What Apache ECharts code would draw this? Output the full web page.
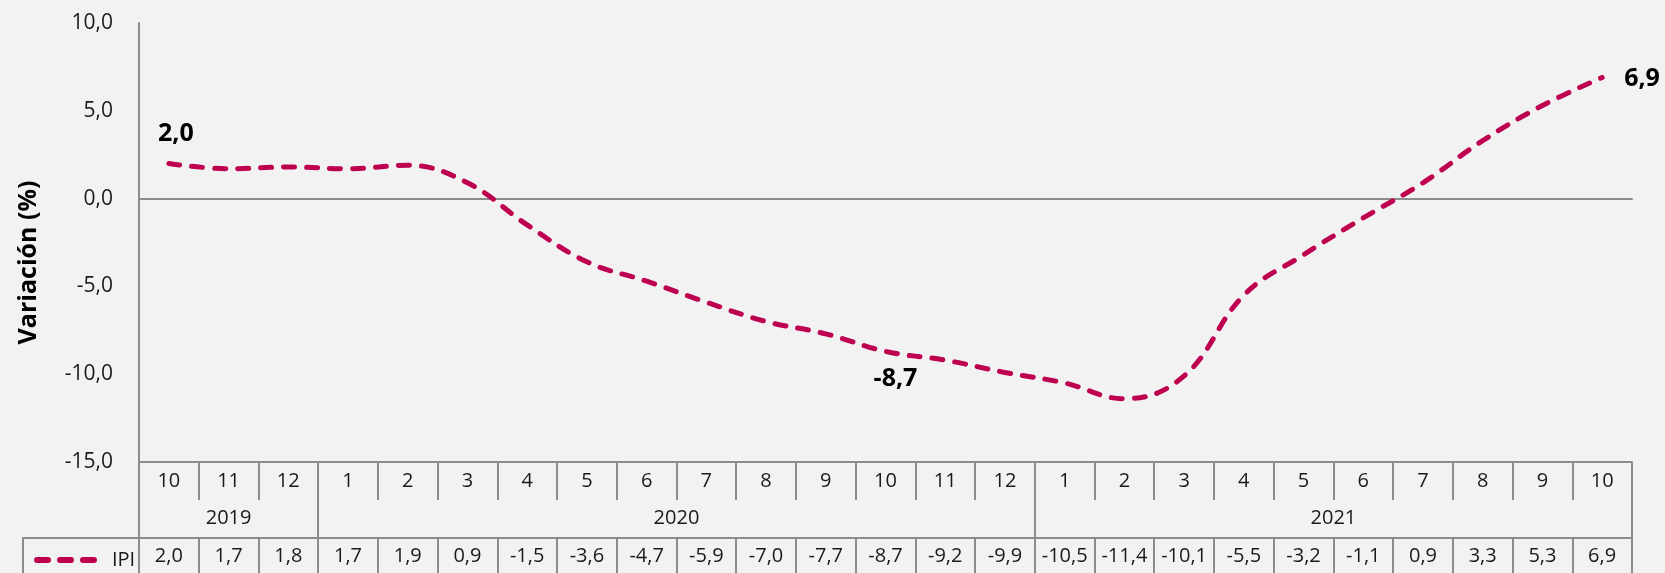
<!DOCTYPE html>
<html>
<head>
<meta charset="utf-8">
<script src="https://cdn.jsdelivr.net/npm/echarts@6/dist/echarts.min.js"></script>
<style>
html,body{margin:0;padding:0;background:#F2F2F2;}
#c{width:1665px;height:573px;}
</style>
</head>
<body>
<div id="c"></div>
<script>
// ---- data ----
const months = ['10','11','12','1','2','3','4','5','6','7','8','9','10','11','12','1','2','3','4','5','6','7','8','9','10'];
const years = ['2019','2020','2021'];
const yearStartMonth = '1'; // a new year starts at month 1
const seriesName = 'IPI';
const ipi = [2.0,1.7,1.8,1.7,1.9,0.9,-1.5,-3.6,-4.7,-5.9,-7.0,-7.7,-8.7,-9.2,-9.9,-10.5,-11.4,-10.1,-5.5,-3.2,-1.1,0.9,3.3,5.3,6.9];
const labelled = [0, 12, 24];
const yTicks = {min: -15, max: 10, interval: 5};
const yTitle = 'Variación (%)';

// ---- derived ----
const fmt = v => v.toFixed(1).replace('.', ',');
const yearSpans = [];
{
  let yi = 0, start = 0;
  for (let i = 1; i <= months.length; i++) {
    if (i === months.length || months[i] === yearStartMonth) {
      yearSpans.push({year: years[yi], start: start, end: i});
      yi++; start = i;
    }
  }
}
const cats = months.map((m, i) => {
  const s = yearSpans.find(sp => i >= sp.start && i < sp.end);
  return s.year + '-' + m;
});
const yearBounds = [0].concat(yearSpans.map(s => s.end));
const yearCenters = yearSpans.map(s => (s.start + s.end) / 2);

const FONT = '"Open Sans", "Noto Sans", sans-serif';
const GRAY = '#8C8C8C';
const RED = '#BE0050';
const TXT = '#1A1A1A';
const CLEAR = 'rgba(0,0,0,0)';

const labelCfg = [
  {position: 'top', distance: 16, offset: [7, 0]},
  {position: 'bottom', distance: 14, offset: [10, 0]},
  {position: 'right', distance: 21, offset: [0, 1]}
];
const seriesData = ipi.map((v, i) => {
  const k = labelled.indexOf(i);
  if (k < 0) return v;
  return {value: v, label: Object.assign({show: true}, labelCfg[k])};
});

const chart = echarts.init(document.getElementById('c'), null, {renderer: 'canvas'});
chart.setOption({
  backgroundColor: '#F2F2F2',
  animation: false,
  textStyle: {fontFamily: FONT},
  grid: [
    {left: 139, right: 33, top: 23, bottom: 111, outerBoundsMode: 'none', containLabel: false},
    {left: 23, width: 116, top: 538, height: 35, outerBoundsMode: 'none', containLabel: false}
  ],
  legend: {
    left: 29, top: 545,
    itemWidth: 66, itemHeight: 14,
    data: [seriesName],
    textStyle: {fontSize: 20, color: TXT, fontFamily: FONT, padding: [0, 0, 0, 4]},
    itemStyle: {color: CLEAR, borderWidth: 0},
    lineStyle: {width: 6, color: RED}
  },
  xAxis: [
    { // main axis: zero line
      gridIndex: 0, type: 'category', data: cats, boundaryGap: true,
      axisLine: {show: true, onZero: true, lineStyle: {color: GRAY, width: 2}},
      axisTick: {show: false}, axisLabel: {show: false}, splitLine: {show: false}
    },
    { // month row
      gridIndex: 0, type: 'category', data: cats, position: 'bottom', boundaryGap: true,
      axisLine: {show: true, onZero: false, lineStyle: {color: GRAY, width: 2}},
      axisTick: {show: true, interval: 0, length: 38, lineStyle: {color: GRAY, width: 2}},
      axisLabel: {show: true, interval: 0, margin: 9, fontSize: 20, color: TXT, fontFamily: FONT,
        formatter: (v) => v.split('-')[1]},
      splitLine: {show: false}
    },
    { // year row
      gridIndex: 0, type: 'value', position: 'bottom', offset: 38, min: 0, max: months.length,
      axisLine: {show: false, onZero: false},
      axisTick: {show: true, customValues: yearBounds, length: 38, lineStyle: {color: GRAY, width: 2}},
      axisLabel: {show: true, customValues: yearCenters, margin: 8, fontSize: 20, color: TXT, fontFamily: FONT,
        formatter: (v) => { const s = yearSpans.find(sp => Math.abs((sp.start + sp.end) / 2 - v) < 1e-6); return s ? s.year : ''; }},
      splitLine: {show: false}
    },
    { // data row
      gridIndex: 0, type: 'category', data: cats, position: 'bottom', offset: 76, boundaryGap: true,
      axisLine: {show: true, onZero: false, lineStyle: {color: GRAY, width: 2}},
      axisTick: {show: true, interval: 0, length: 36, lineStyle: {color: GRAY, width: 2}},
      axisLabel: {show: true, interval: 0, margin: 8, fontSize: 20, color: TXT, fontFamily: FONT,
        formatter: (v, i) => fmt(ipi[i])},
      splitLine: {show: false}
    },
    { // legend cell top border
      gridIndex: 1, type: 'value', position: 'top', min: 0, max: 1,
      axisLine: {show: true, onZero: false, lineStyle: {color: GRAY, width: 2}},
      axisTick: {show: false}, axisLabel: {show: false}, splitLine: {show: false}
    }
  ],
  yAxis: [
    {
      gridIndex: 0, type: 'value', min: yTicks.min, max: yTicks.max, interval: yTicks.interval,
      name: yTitle, nameLocation: 'middle', nameRotate: 90, nameGap: 98,
      nameTextStyle: {fontSize: 25, fontWeight: 'bold', color: '#000', fontFamily: FONT, padding: [0, 40, 0, 0]},
      axisLine: {show: true, lineStyle: {color: GRAY, width: 2}},
      axisTick: {show: false},
      axisLabel: {margin: 26, fontSize: 21, color: TXT, fontFamily: FONT, formatter: fmt},
      splitLine: {show: false}
    },
    { // legend cell left border
      gridIndex: 1, type: 'value', min: 0, max: 1, position: 'left',
      axisLine: {show: true, onZero: false, lineStyle: {color: GRAY, width: 2}},
      axisTick: {show: false}, axisLabel: {show: false}, splitLine: {show: false}
    }
  ],
  series: [{
    name: seriesName, type: 'line', xAxisIndex: 0, yAxisIndex: 0,
    data: seriesData, smooth: 0.4,
    symbol: 'circle', symbolSize: 2, showSymbol: true,
    lineStyle: {color: RED, width: 5, type: [11, 12], cap: 'round'},
    itemStyle: {color: CLEAR, borderWidth: 0},
    label: {show: false, fontSize: 25, fontWeight: 'bold', color: '#000', fontFamily: FONT, formatter: p => fmt(p.value)}
  }]
});
</script>
</body>
</html>
